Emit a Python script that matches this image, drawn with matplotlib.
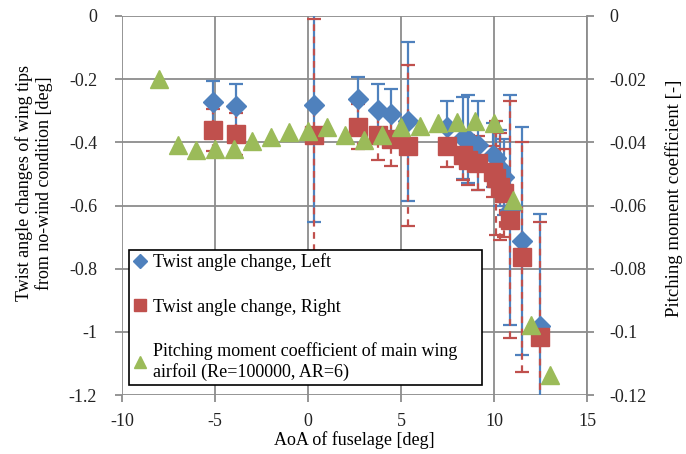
import matplotlib
matplotlib.use("Agg")
import matplotlib.pyplot as plt
from matplotlib.lines import Line2D

plt.rcParams['font.family'] = ['Liberation Serif', 'DejaVu Serif']
plt.rcParams['axes.unicode_minus'] = False

# ---- data ----
aoa_cm = [-8, -7, -6, -5, -4, -3, -2, -1, 0, 1, 2, 3, 4, 5, 6, 7, 8, 9, 10, 11, 12, 13]
cm = [-0.0200, -0.0409, -0.0424, -0.0421, -0.0421, -0.0395, -0.0384, -0.0368,
      -0.0363, -0.0350, -0.0376, -0.0392, -0.0377, -0.0351, -0.0347, -0.0340,
      -0.0337, -0.0333, -0.0340, -0.0582, -0.0978, -0.1138]

aoa_twist = [-5.1, -3.85, 0.3, 2.7, 3.75, 4.45, 5.4, 7.45, 8.35, 8.6, 9.15,
             9.95, 10.1, 10.3, 10.55, 10.85, 11.5, 12.45]
left_twist = [-0.273, -0.284, -0.282, -0.263, -0.297, -0.310, -0.334, -0.350,
              -0.385, -0.390, -0.410, -0.440, -0.450, -0.480, -0.509, -0.614,
              -0.711, -0.983]
left_err = [0.068, 0.068, 0.369, 0.069, 0.082, 0.079, 0.253, 0.080, 0.130,
            0.140, 0.140, 0.100, 0.090, 0.120, 0.120, 0.364, 0.361, 0.356]
right_twist = [-0.361, -0.373, -0.377, -0.350, -0.377, -0.390, -0.411, -0.413,
               -0.440, -0.456, -0.466, -0.493, -0.514, -0.540, -0.561, -0.645,
               -0.762, -1.015]
right_err = [0.066, 0.066, 0.367, 0.070, 0.079, 0.084, 0.255, 0.065, 0.080,
             0.080, 0.085, 0.080, 0.180, 0.170, 0.140, 0.375, 0.364, 0.362]

x_ticks = [-10, -5, 0, 5, 10, 15]
y_ticks = [0, -0.2, -0.4, -0.6, -0.8, -1, -1.2]
y_labels = ['0', '-0.2', '-0.4', '-0.6', '-0.8', '-1', '-1.2']
y2_ticks = [0, -0.02, -0.04, -0.06, -0.08, -0.1, -0.12]
y2_labels = ['0', '-0.02', '-0.04', '-0.06', '-0.08', '-0.1', '-0.12']

labels = ['Twist angle change, Left', 'Twist angle change, Right',
          'Pitching moment coefficient of main wing\nairfoil (Re=100000, AR=6)']

BLUE = '#4F81BD'
RED = '#C0504D'
GREEN = '#9BBB59'
GRID = '#8C8C8C'
FS = 13

fig = plt.figure(figsize=(6.86, 4.54), dpi=100)
ax = fig.add_axes([122/686, 1-395/454, 465/686, 379/454])
ax2 = ax.twinx()

# error bars
eb1 = ax.errorbar(aoa_twist, left_twist, yerr=left_err, fmt='none', ecolor=BLUE,
                  elinewidth=1.6, capsize=5, capthick=1.6, zorder=2)
eb2 = ax.errorbar(aoa_twist, right_twist, yerr=right_err, fmt='none', ecolor=RED,
                  elinewidth=1.6, capsize=5, capthick=1.6, zorder=2.1)
for lc in eb2[2]:
    lc.set_linestyle((0, (3, 2.5)))

ax.plot(aoa_twist, left_twist, linestyle='none', marker='D', markersize=10,
        color=BLUE, markeredgecolor=BLUE, zorder=3)
ax.plot(aoa_twist, right_twist, linestyle='none', marker='s', markersize=12.5,
        color=RED, markeredgecolor=RED, zorder=4)

ax2.plot(aoa_cm, cm, linestyle='none', marker='^', markersize=13,
         color=GREEN, markeredgecolor=GREEN, zorder=5)

ax.set_xlim(-10, 15)
ax.set_ylim(-1.2, 0)
ax2.set_ylim(-0.12, 0)

ax.set_xticks(x_ticks)
ax.set_xticklabels([str(v) for v in x_ticks], fontsize=FS)
ax.set_yticks(y_ticks)
ax.set_yticklabels(y_labels, fontsize=FS)
ax2.set_yticks(y2_ticks)
ax2.set_yticklabels(y2_labels, fontsize=FS)

ax.grid(True, color=GRID, linewidth=1.3)
ax.set_axisbelow(True)
for a in (ax, ax2):
    for s in a.spines.values():
        s.set_visible(False)
ax2.spines['right'].set_visible(True)
ax2.spines['right'].set_color(GRID)
ax2.spines['right'].set_linewidth(1.3)

ax.tick_params(axis='x', colors=GRID, labelcolor='#222222', length=5,
               width=1.3, direction='out', pad=8)
ax.tick_params(axis='y', colors=GRID, labelcolor='#222222', length=5,
               width=1.3, direction='out', pad=13)
ax2.tick_params(axis='y', colors=GRID, labelcolor='#222222', length=5,
                width=1.3, direction='out', pad=11)

ax.set_xlabel('AoA of fuselage [deg]', fontsize=FS, labelpad=1)
ax.set_ylabel('Twist angle changes of wing tips\nfrom no-wind condition [deg]',
              fontsize=FS)
ax.yaxis.set_label_coords(-0.148, 0.56)
ax2.set_ylabel('Pitching moment coefficient [-]', fontsize=13.5)
ax2.yaxis.set_label_coords(1.168, 0.52)

handles = [Line2D([], [], linestyle='none', marker='D', markersize=7, color=BLUE),
           Line2D([], [], linestyle='none', marker='s', markersize=8, color=RED),
           Line2D([], [], linestyle='none', marker='^', markersize=8, color=GREEN)]
leg = ax2.legend(handles, labels, loc='lower left',
                 bbox_to_anchor=(0.015, 0.026, 0.759, 0.364), mode='expand',
                 fontsize=FS, frameon=True, fancybox=False, framealpha=1,
                 edgecolor='black', handlelength=0.8, handletextpad=0.3,
                 labelspacing=1.5, borderaxespad=0, borderpad=0.22)
leg.get_frame().set_linewidth(1.2)
leg.set_zorder(10)

fig.savefig('out.png', dpi=100)
